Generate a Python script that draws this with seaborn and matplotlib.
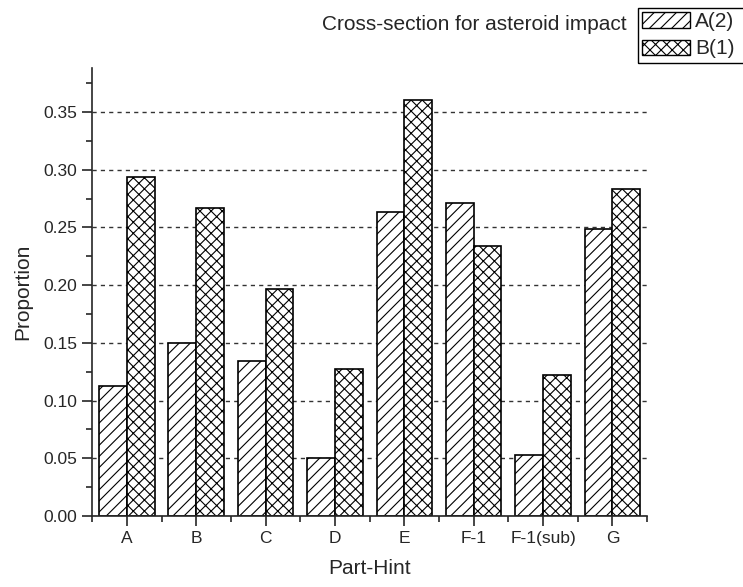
import numpy as np
import pandas as pd
import matplotlib
matplotlib.use('Agg')
import matplotlib.pyplot as plt
from matplotlib.patches import Patch, Rectangle
from matplotlib.ticker import MultipleLocator, FormatStrFormatter
import seaborn as sns

# dados
categorias = ['A', 'B', 'C', 'D', 'E', 'F-1', 'F-1(sub)', 'G']
serie_a = [0.113, 0.150, 0.134, 0.050, 0.263, 0.271, 0.053, 0.249]
serie_b = [0.294, 0.267, 0.197, 0.127, 0.360, 0.234, 0.122, 0.283]
nomes = ['A(2)', 'B(1)']
hachuras = ['///', 'xxx']

df = pd.DataFrame({
    'Part-Hint': categorias * 2,
    'Proportion': serie_a + serie_b,
    'grupo': [nomes[0]] * len(categorias) + [nomes[1]] * len(categorias),
})

sns.set_style('ticks')
plt.rcParams['font.family'] = ['Liberation Sans', 'DejaVu Sans']
plt.rcParams['hatch.linewidth'] = 0.8

fig = plt.figure(figsize=(7.43, 5.87), dpi=100)
ax = fig.add_axes([0.124, 0.121, 0.747, 0.763])

sns.barplot(data=df, x='Part-Hint', y='Proportion', hue='grupo',
            palette=['white', 'white'], edgecolor='black', linewidth=1.2,
            width=0.8, legend=False, ax=ax)

# hachuras por serie
for cont, h in zip(ax.containers, hachuras):
    for barra in cont:
        barra.set_hatch(h)

ax.set_xlim(-0.5, 7.5)
ax.set_ylim(0, 0.388)
ax.yaxis.set_major_locator(MultipleLocator(0.05))
ax.yaxis.set_minor_locator(MultipleLocator(0.025))
ax.set_xticks(np.arange(-0.5, 8, 1), minor=True)
ax.yaxis.set_major_formatter(FormatStrFormatter('%.2f'))

ax.grid(axis='y', which='major', color='#333333', linestyle=(0, (3, 3)), linewidth=1)
ax.set_axisbelow(True)
sns.despine(ax=ax)
for s in ['left', 'bottom']:
    ax.spines[s].set_linewidth(1.2)

ax.tick_params(which='major', length=7, width=1.2, labelsize=12.5, direction='out')
ax.tick_params(which='minor', length=4, width=1.2, direction='out')
ax.set_xlabel('Part-Hint', fontsize=15, labelpad=10)
ax.set_ylabel('Proportion', fontsize=15, labelpad=8)

handles = [Patch(facecolor='white', edgecolor='black', hatch=h, label=n)
           for h, n in zip(hachuras, nomes)]
leg = fig.legend(handles=handles, loc='upper left', bbox_to_anchor=(0.8587, 0.9864),
                 fontsize=15, frameon=False,
                 handlelength=2.3, handleheight=0.75, handletextpad=0.25,
                 borderpad=0.2, labelspacing=0.4, borderaxespad=0)
fig.text(0.844, 0.949, 'Cross-section for asteroid impact', fontsize=15,
         ha='right', va='baseline')

# moldura da legenda cortada na borda direita, como no original
fig.canvas.draw()
bb = leg.get_window_extent().transformed(fig.transFigure.inverted())
fig.patches.append(Rectangle((bb.x0, bb.y0), 1.05 - bb.x0, bb.y1 - bb.y0,
                             transform=fig.transFigure, fill=False,
                             edgecolor='black', linewidth=1))

fig.savefig('out.png', dpi=100)
